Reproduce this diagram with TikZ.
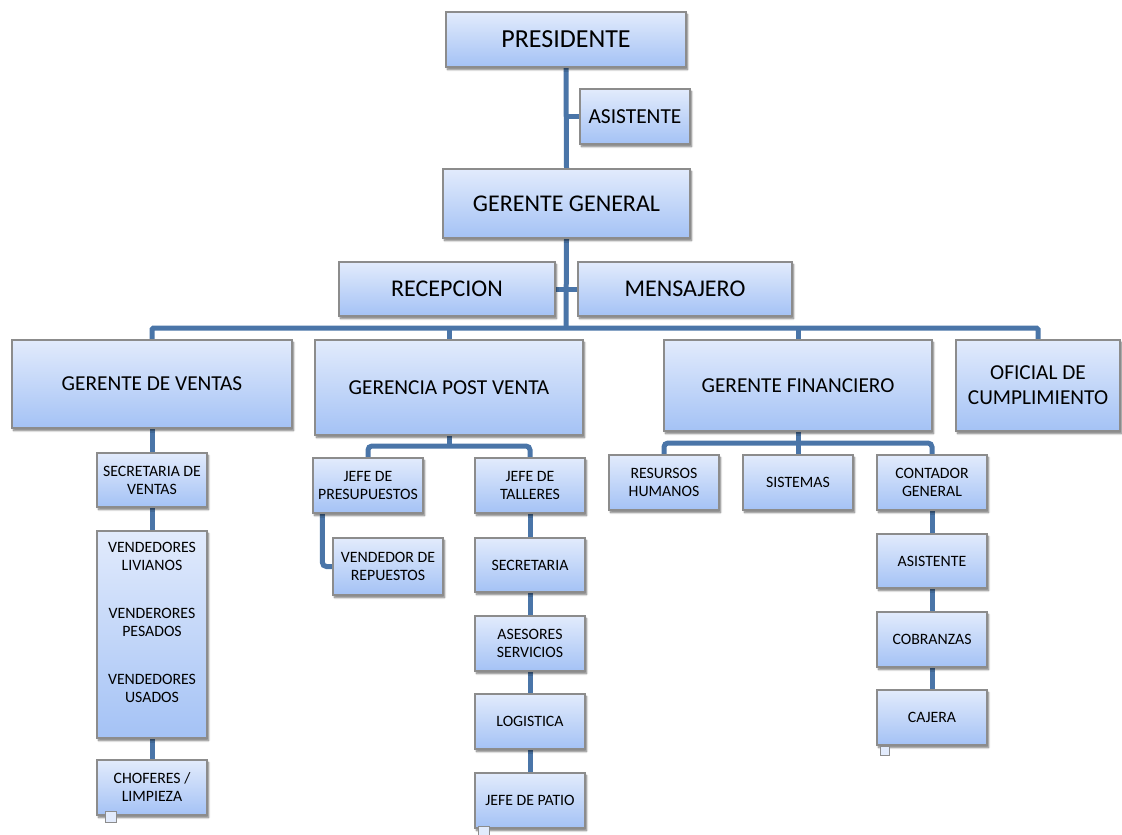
\documentclass[tikz,border=0pt]{standalone}
\usepackage{fontspec}
\setmainfont{Carlito}
\usetikzlibrary{shadows.blur,calc}
\definecolor{boxtop}{RGB}{226,235,252}
\definecolor{boxbot}{RGB}{164,194,245}
\definecolor{boxline}{RGB}{140,140,140}
\definecolor{conn}{RGB}{74,117,168}
\pgfdeclarelayer{background}
\pgfsetlayers{background,main}
\tikzset{
  box/.style={draw=boxline, line width=1.2pt, top color=boxtop, bottom color=boxbot,
    inner sep=0pt, align=center,
    blur shadow={shadow xshift=1.5pt, shadow yshift=-2.5pt, shadow blur steps=6, shadow opacity=55}},
  fbig/.style={font=\fontsize{26}{30}\selectfont},
  fgg/.style={font=\fontsize{24}{28}\selectfont},
  fasi/.style={font=\fontsize{21.4}{25}\selectfont},
  fmid/.style={font=\fontsize{21.3}{25}\selectfont},
  fsmall/.style={font=\fontsize{15.8}{18}\selectfont},
  conn/.style={draw=conn, line width=5pt},
  handle/.style={draw=boxline, line width=0.9pt, fill=boxtop, inner sep=0pt, minimum size=#1},
}
\begin{document}
\begin{tikzpicture}[x=1pt,y=-1pt]
\useasboundingbox (0,0) rectangle (1122,835);
% top
\node[box,fbig,minimum width=240pt,minimum height=55pt] (pres) at (566,39.5) {PRESIDENTE};
\node[box,fasi,minimum width=110pt,minimum height=55pt] (asis) at (635,116.5) {ASISTENTE};
\node[box,fgg,minimum width=247pt,minimum height=69pt] (gg) at (566.5,203.5) {GERENTE GENERAL};
\node[box,fgg,minimum width=216pt,minimum height=54pt] (rec) at (447,289) {RECEPCION};
\node[box,fgg,minimum width=214pt,minimum height=54pt] (men) at (685,289) {MENSAJERO};
% level 2
\node[box,fmid,minimum width=280pt,minimum height=88pt] (gv) at (152,384) {GERENTE DE VENTAS};
\node[box,fmid,minimum width=268pt,minimum height=95pt] (gpv) at (449,387.5) {GERENCIA POST VENTA};
\node[box,fmid,minimum width=268pt,minimum height=91pt] (gf) at (798,385.5) {GERENTE FINANCIERO};
\node[box,fmid,minimum width=164pt,minimum height=91pt] (ofi) at (1038,385.5) {OFICIAL DE\\CUMPLIMIENTO};
% ventas
\node[box,fsmall,minimum width=110pt,minimum height=54pt] (sv) at (152,480) {SECRETARIA DE\\VENTAS};
\node[box,minimum width=110pt,minimum height=207pt] (vend) at (152,634.5) {};
\node[fsmall,align=center,inner sep=0pt] (vtext) at (152,622) {VENDEDORES\\LIVIANOS\\[30pt]VENDERORES\\PESADOS\\[30pt]VENDEDORES\\USADOS};
\node[box,fsmall,minimum width=110pt,minimum height=55pt] (cho) at (152,787.5) {CHOFERES /\\LIMPIEZA};
% post venta
\node[box,fsmall,minimum width=110pt,minimum height=55pt] (jp) at (368,485.5) {JEFE DE\\PRESUPUESTOS};
\node[box,fsmall,minimum width=110pt,minimum height=57pt] (vr) at (388,566.5) {VENDEDOR DE\\REPUESTOS};
\node[box,fsmall,minimum width=110pt,minimum height=55pt] (jt) at (530,485.5) {JEFE DE\\TALLERES};
\node[box,fsmall,minimum width=110pt,minimum height=54pt] (sec) at (530,565) {SECRETARIA};
\node[box,fsmall,minimum width=110pt,minimum height=55pt] (ase) at (530,643.5) {ASESORES\\SERVICIOS};
\node[box,fsmall,minimum width=110pt,minimum height=55pt] (log) at (530,721.5) {LOGISTICA};
\node[box,fsmall,minimum width=110pt,minimum height=55pt] (pat) at (530,800.5) {JEFE DE PATIO};
% financiero
\node[box,fsmall,minimum width=110pt,minimum height=55pt] (rh) at (664,482.5) {RESURSOS\\HUMANOS};
\node[box,fsmall,minimum width=110pt,minimum height=55pt] (sis) at (798,482.5) {SISTEMAS};
\node[box,fsmall,minimum width=110pt,minimum height=55pt] (cg) at (932,482.5) {CONTADOR\\GENERAL};
\node[box,fsmall,minimum width=110pt,minimum height=54pt] (asi2) at (932,561) {ASISTENTE};
\node[box,fsmall,minimum width=110pt,minimum height=55pt] (cob) at (932,639.5) {COBRANZAS};
\node[box,fsmall,minimum width=110pt,minimum height=55pt] (caj) at (932,717.5) {CAJERA};
% handles
\node[handle=11pt] (h1) at ($(cho.south west)+(14.5,1)$) {};
\node[handle=11pt] (h2) at ($(pat.south west)+(9.5,3)$) {};
\node[handle=9pt] (h3) at ($(caj.south west)+(8.5,5)$) {};
% coordinates
\coordinate (bus) at (566,328);
\coordinate (pvbus) at (449,446);
\coordinate (fbus) at (798,443);
\begin{pgfonlayer}{background}
\draw[conn] (pres.south) -- (gg.north);
\draw[conn] (asis.west) -- (asis.west -| pres.south);
\draw[conn] (gg.south) -- (bus);
\draw[conn] (rec.east) -- (men.west);
\draw[conn, rounded corners=1.5pt] (gv.north) -- (gv.north |- bus) -- (ofi.north |- bus) -- (ofi.north);
\draw[conn] (gpv.north) -- (gpv.north |- bus);
\draw[conn] (gf.north) -- (gf.north |- bus);
% ventas
\draw[conn] (gv.south) -- (sv.north);
\draw[conn] (sv.south) -- (vend.north);
\draw[conn] (vend.south) -- (cho.north);
% post venta
\draw[conn] (gpv.south) -- (pvbus);
\draw[conn, rounded corners=4pt] (jp.north) |- (pvbus) -| (jt.north);
\draw[conn, rounded corners=4pt] ([xshift=10pt]jp.south west) |- (vr.west);
\draw[conn] (jt.south) -- (sec.north);
\draw[conn] (sec.south) -- (ase.north);
\draw[conn] (ase.south) -- (log.north);
\draw[conn] (log.south) -- (pat.north);
% financiero
\draw[conn] (gf.south) -- (sis.north);
\draw[conn, rounded corners=4pt] (rh.north) |- (fbus) -| (cg.north);
\draw[conn] (cg.south) -- (asi2.north);
\draw[conn] (asi2.south) -- (cob.north);
\draw[conn] (cob.south) -- (caj.north);
\end{pgfonlayer}
\end{tikzpicture}
\end{document}
